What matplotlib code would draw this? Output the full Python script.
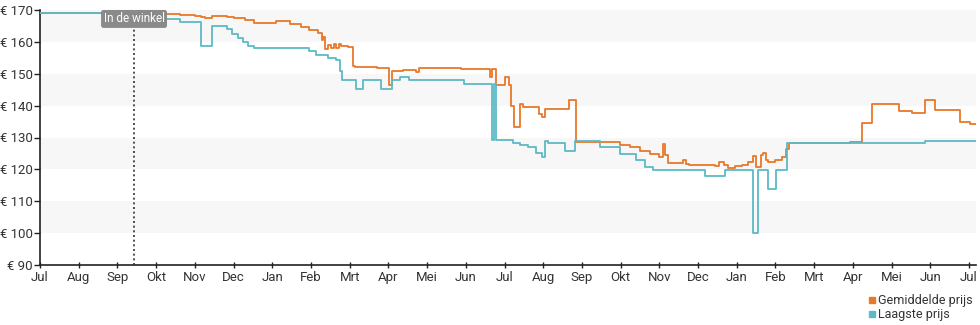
import matplotlib
matplotlib.use("Agg")
import matplotlib.pyplot as plt
from matplotlib.lines import Line2D
import pandas as pd

plt.rcParams['font.family'] = ['Roboto', 'DejaVu Sans']

# ---- data ----
low_dates = ['2022-07-01', '2022-09-14', '2022-10-19', '2022-11-05', '2022-11-13', '2022-11-25',
             '2022-11-29', '2022-12-04', '2022-12-08', '2022-12-12', '2022-12-16', '2023-01-29',
             '2023-02-03', '2023-02-13', '2023-02-19', '2023-02-22', '2023-02-24', '2023-03-07',
             '2023-03-12', '2023-03-26', '2023-04-04', '2023-04-10', '2023-04-17', '2023-05-31',
             '2023-06-22', '2023-06-23', '2023-06-25', '2023-07-08', '2023-07-14', '2023-07-20',
             '2023-07-26', '2023-07-31', '2023-08-02', '2023-08-05', '2023-08-18', '2023-08-26',
             '2023-09-15', '2023-09-30', '2023-10-13', '2023-10-20', '2023-10-26', '2023-12-06',
             '2023-12-22', '2024-01-13', '2024-01-17', '2024-01-25', '2024-01-31', '2024-02-09',
             '2024-05-27', '2024-07-07']
low_prices = [169.0, 167.2, 166.1, 158.8, 164.9, 163.9,
              162.5, 161.2, 160.0, 158.8, 158.0, 157.0,
              155.9, 154.9, 154.3, 151.0, 148.0, 145.1,
              148.0, 145.1, 148.0, 148.9, 148.0, 146.8,
              129.2, 146.8, 129.2, 128.4, 127.5, 126.9,
              125.0, 123.8, 129.0, 128.4, 125.9, 128.8,
              127.0, 124.9, 123.0, 120.8, 119.8, 118.0,
              119.8, 100.1, 119.8, 113.8, 119.8, 128.2,
              129.0, 129.0]

avg_dates = ['2022-07-01', '2022-09-14', '2022-10-19', '2022-10-31', '2022-11-05', '2022-11-08',
             '2022-11-13', '2022-11-25', '2022-12-01', '2022-12-09', '2022-12-16', '2023-01-03',
             '2023-01-14', '2023-01-22', '2023-01-29', '2023-02-05', '2023-02-08', '2023-02-09',
             '2023-02-10', '2023-02-13', '2023-02-15', '2023-02-17', '2023-02-19', '2023-02-21',
             '2023-02-23', '2023-02-28', '2023-03-04', '2023-03-06', '2023-03-23', '2023-04-02',
             '2023-04-04', '2023-04-13', '2023-04-23', '2023-04-25', '2023-05-28', '2023-06-20',
             '2023-06-22', '2023-06-25', '2023-07-02', '2023-07-05', '2023-07-07', '2023-07-09',
             '2023-07-14', '2023-07-16', '2023-07-22', '2023-07-29', '2023-07-31', '2023-08-02',
             '2023-08-21', '2023-08-27', '2023-09-15', '2023-09-30', '2023-10-08', '2023-10-16',
             '2023-10-24', '2023-10-31', '2023-11-03', '2023-11-05', '2023-11-07', '2023-11-19',
             '2023-11-21', '2023-11-24', '2023-12-14', '2023-12-17', '2023-12-21', '2023-12-24',
             '2023-12-30', '2024-01-04', '2024-01-09', '2024-01-13', '2024-01-15', '2024-01-19',
             '2024-01-21', '2024-01-23', '2024-01-25', '2024-01-30', '2024-02-05', '2024-02-08',
             '2024-02-10', '2024-02-19', '2024-03-29', '2024-04-08', '2024-04-16', '2024-05-07',
             '2024-05-17', '2024-05-27', '2024-06-04', '2024-06-24', '2024-07-02', '2024-07-07']
avg_prices = [169.0, 168.6, 168.4, 168.1, 167.9, 167.4,
              168.2, 167.9, 167.4, 166.8, 166.0, 166.5,
              165.6, 164.8, 163.8, 162.7, 160.5, 161.6,
              157.8, 159.0, 158.0, 159.2, 158.2, 159.3,
              158.8, 158.5, 152.5, 152.2, 151.7, 146.5,
              151.0, 151.2, 150.6, 151.9, 151.4, 149.1,
              151.4, 146.5, 149.1, 146.5, 140.0, 133.3,
              140.5, 139.5, 139.7, 137.5, 136.5, 138.9,
              141.8, 128.7, 128.5, 127.6, 127.0, 125.8,
              124.8, 124.0, 127.9, 124.5, 121.9, 123.0,
              121.8, 121.4, 121.2, 122.4, 121.5, 120.5,
              121.0, 121.3, 122.3, 124.2, 120.6, 124.5,
              125.0, 123.0, 122.4, 122.9, 123.8, 126.5,
              128.4, 128.2, 128.7, 134.5, 140.5, 138.4,
              137.6, 141.8, 138.6, 134.8, 134.3, 134.3]

month_labels = ['Jul', 'Aug', 'Sep', 'Okt', 'Nov', 'Dec', 'Jan', 'Feb', 'Mrt', 'Apr', 'Mei', 'Jun',
                'Jul', 'Aug', 'Sep', 'Okt', 'Nov', 'Dec', 'Jan', 'Feb', 'Mrt', 'Apr', 'Mei', 'Jun', 'Jul']
y_ticks = [90, 100, 110, 120, 130, 140, 150, 160, 170]
store_date = '2022-09-13'
store_label = 'In de winkel'
series_names = ['Gemiddelde prijs', 'Laagste prijs']

ORANGE = '#e8782a'
TEAL = '#5bbac6'

# ---- figure ----
fig = plt.figure(figsize=(9.8, 3.25), dpi=100)
ax = fig.add_axes([40/980, 1-265/325, 936/980, 255/325])

start = pd.Timestamp('2022-07-01')
end = pd.Timestamp('2024-07-01')
span_days = (end - start).days
x_end = start + pd.Timedelta(days=736.5)

# bands
for lo in [100, 120, 140, 160]:
    ax.axhspan(lo, lo + 10, color='#f7f7f7', lw=0, zorder=0)

ax.plot(pd.to_datetime(avg_dates), avg_prices, drawstyle='steps-post', color=ORANGE, lw=1.3, zorder=3)
ax.plot(pd.to_datetime(low_dates), low_prices, drawstyle='steps-post', color=TEAL, lw=1.3, zorder=4)

ax.set_xlim(start, x_end)
ax.set_ylim(90, 170)

tick_pos = [start + pd.Timedelta(days=i * span_days / 24) for i in range(len(month_labels))]
ax.set_xticks(tick_pos)
ax.set_xticklabels(month_labels)
ax.set_yticks(y_ticks)
ax.set_yticklabels([f'€ {v}' for v in y_ticks])

for s in ['top', 'right']:
    ax.spines[s].set_visible(False)
for s in ['left', 'bottom']:
    ax.spines[s].set_color('#222222')
    ax.spines[s].set_linewidth(1.2)

ax.tick_params(axis='y', direction='out', length=4, width=1, colors='#222222',
               labelsize=9.5, labelcolor='#333333', pad=1)
ax.tick_params(axis='x', direction='inout', length=5, width=1, colors='#222222',
               labelsize=9.5, labelcolor='#333333', pad=1.5)

# store line
sd = pd.Timestamp(store_date)
ax.axvline(sd, color='#333333', lw=1.2, ls=(0, (1.2, 1.6)), zorder=5)
ax.text(sd, 167.2, store_label, ha='center', va='center', fontsize=8.5, color='white', zorder=6,
        bbox=dict(boxstyle='round,pad=0.15', fc='#8a8a8a', ec='#8a8a8a'))

handles = [Line2D([], [], marker='s', ls='none', color=ORANGE, markersize=5),
           Line2D([], [], marker='s', ls='none', color=TEAL, markersize=5)]
fig.legend(handles, series_names, loc='upper right', bbox_to_anchor=(979/980, 1-288/325),
           frameon=False, fontsize=9, handletextpad=0.1, labelspacing=0.05,
           borderpad=0, handlelength=0.8, labelcolor='#333333')

fig.savefig('out.png', dpi=100)
